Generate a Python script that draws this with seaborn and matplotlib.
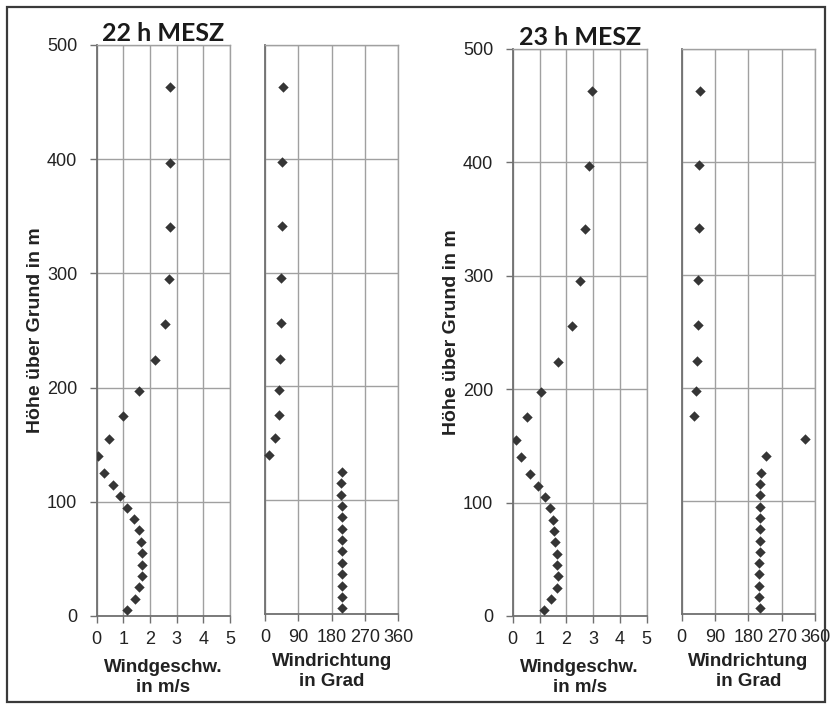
import matplotlib
matplotlib.use("Agg")
import matplotlib.pyplot as plt
from matplotlib.patches import Rectangle
import seaborn as sns
import pandas as pd

# Messhöhen (m über Grund)
hoehe = [5, 15, 25, 35, 45, 55, 65, 75, 85, 95, 105, 115, 125,
         140, 155, 175, 197, 224, 256, 295, 341, 397, 463]

# 22 h MESZ
speed_22 = [1.14, 1.44, 1.6, 1.7, 1.7, 1.7, 1.68, 1.58, 1.39, 1.14, 0.88, 0.6, 0.29,
            0.05, 0.45, 0.99, 1.58, 2.18, 2.55, 2.7, 2.75, 2.75, 2.75]
dir_22 = [209, 209, 207, 207, 207, 207, 207, 207, 207, 207, 204, 204, 209,
          10, 27, 37, 39, 41, 42, 43, 45, 46, 48]

# 23 h MESZ
speed_23 = [1.15, 1.43, 1.64, 1.69, 1.66, 1.64, 1.59, 1.54, 1.49, 1.38, 1.2, 0.93, 0.65,
            0.3, 0.13, 0.53, 1.04, 1.69, 2.2, 2.5, 2.69, 2.85, 2.95]
dir_23 = [211, 209, 209, 209, 209, 211, 211, 212, 212, 212, 211, 211, 215,
          227, 334, 32, 38, 41, 43, 44, 46, 48, 50]

titles = ["22 h MESZ", "23 h MESZ"]
speed_ticks = [0, 1, 2, 3, 4, 5]
dir_ticks = [0, 90, 180, 270, 360]
height_ticks = [0, 100, 200, 300, 400, 500]

W, H = 831, 704
GRID = "#a0a0a0"
SPINE = "#707070"
MARK = "#353535"
TXT = "#222222"

sns.set_style("white")
plt.rcParams["font.family"] = ["Liberation Sans", "DejaVu Sans"]

fig = plt.figure(figsize=(W / 100, H / 100), dpi=100)


def px_axes(x0, y_top, x1, y_bot):
    return fig.add_axes([x0 / W, 1 - y_bot / H, (x1 - x0) / W, (y_bot - y_top) / H])


def style(ax, xticks, xlim, show_y):
    ax.set_xlim(*xlim)
    ax.set_ylim(0, 500)
    ax.set_xticks(xticks)
    ax.set_yticks(height_ticks)
    ax.grid(True, color=GRID, linewidth=1.0)
    ax.set_axisbelow(True)
    for side in ["top", "right"]:
        ax.spines[side].set_visible(True)
        ax.spines[side].set_color(GRID)
        ax.spines[side].set_linewidth(1.0)
    for side in ["left", "bottom"]:
        ax.spines[side].set_visible(True)
        ax.spines[side].set_color(SPINE)
        ax.spines[side].set_linewidth(1.3)
    ax.tick_params(axis="x", bottom=True, length=5, width=1, color=SPINE,
                   labelsize=13, labelcolor=TXT, pad=6)
    if show_y:
        ax.tick_params(axis="y", left=True, length=5, width=1, color=SPINE,
                       labelsize=13, labelcolor=TXT, pad=9)
    else:
        ax.tick_params(axis="y", left=False, labelleft=False)
    ax.set_xlabel("")
    ax.set_ylabel("")


panels = [
    (speed_22, dir_22, 96.7, 230, 265, 398.3, 45, 616, 614),
    (speed_23, dir_23, 512.7, 646.7, 681.7, 815, 48.7, 616, 614),
]

for i, (spd, drc, sx0, sx1, dx0, dx1, ytop, ybot_s, ybot_d) in enumerate(panels):
    df = pd.DataFrame({"hoehe": hoehe, "speed": spd, "dir": drc})

    ax1 = px_axes(sx0, ytop, sx1, ybot_s)
    sns.scatterplot(data=df, x="speed", y="hoehe", ax=ax1, marker="D",
                    s=28, color=MARK, linewidth=0, zorder=3)
    style(ax1, speed_ticks, (0, 5), True)
    ax1.set_ylabel("Höhe über Grund in m", fontsize=14, fontweight="bold",
                   color=TXT, labelpad=2)
    ax1.set_xlabel("Windgeschw.\nin m/s", fontsize=13.5, fontweight="bold",
                   color=TXT, labelpad=8, linespacing=1.2)
    ax1.set_title(titles[i], fontsize=18, fontweight="bold", family=["Lato", "DejaVu Sans"],
                  color="#1a1a1a", pad=3)

    ax2 = px_axes(dx0, ytop, dx1, ybot_d)
    sns.scatterplot(data=df, x="dir", y="hoehe", ax=ax2, marker="D",
                    s=28, color=MARK, linewidth=0, zorder=3, clip_on=False)
    style(ax2, dir_ticks, (0, 360), False)
    ax2.set_xlabel("Windrichtung\nin Grad", fontsize=13.5, fontweight="bold",
                   color=TXT, labelpad=5, linespacing=1.2)

# Rahmen um die gesamte Abbildung
fig.patches.append(Rectangle((7 / W, 2 / H), 818 / W, 695 / H, transform=fig.transFigure,
                             fill=False, edgecolor="#3a3a3a", linewidth=1.6))

fig.savefig("out.png", dpi=100)
